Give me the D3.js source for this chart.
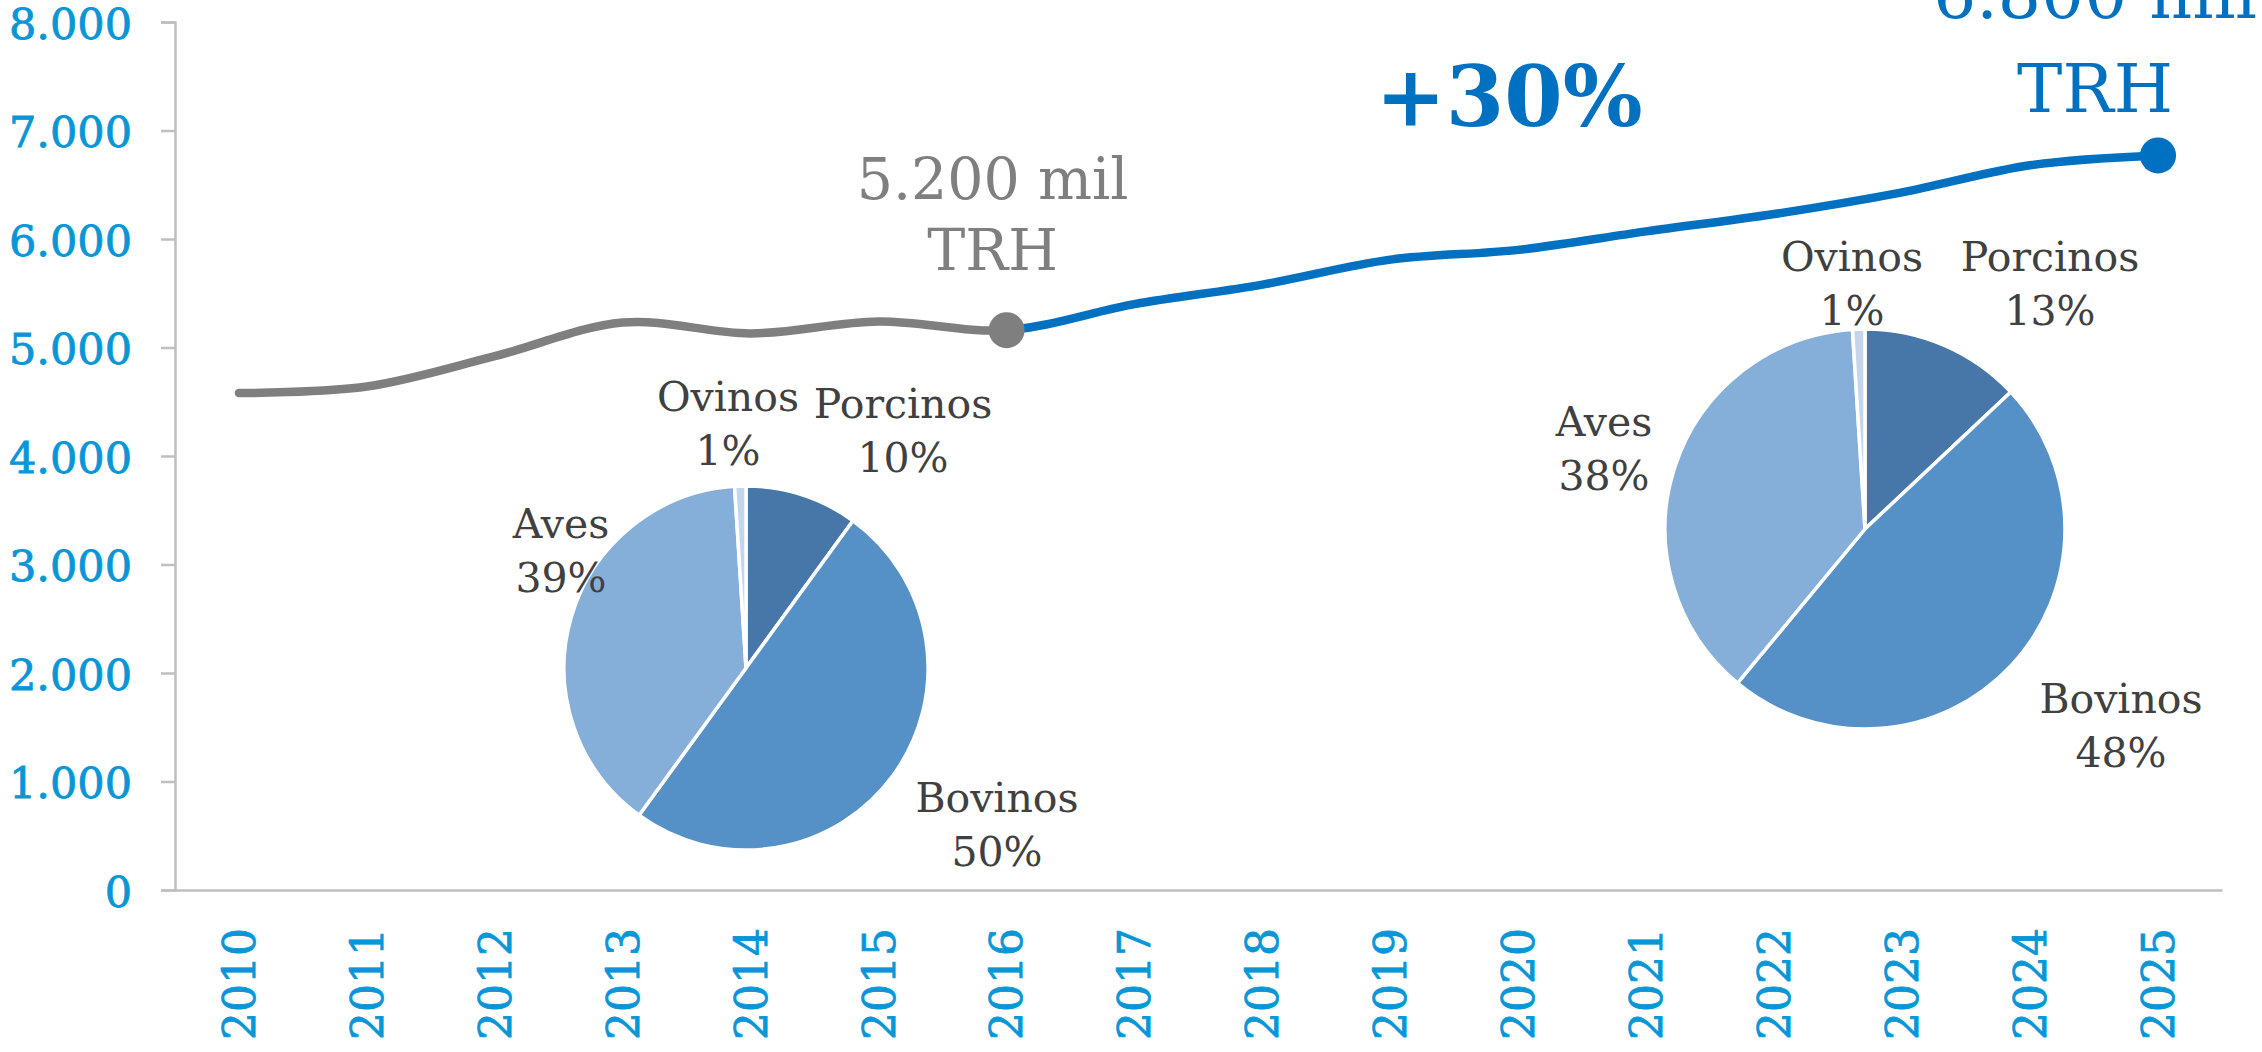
<!DOCTYPE html>
<html>
<head>
<meta charset="utf-8">
<script src="https://cdn.jsdelivr.net/npm/d3@7"></script>
<style>
  body { margin: 0; background: #fff; }
  svg { display: block; font-family: "DejaVu Serif", Georgia, serif; }
</style>
</head>
<body>
<svg id="chart" width="2262" height="1052"></svg>
<script>
// Data
const years = ["2010","2011","2012","2013","2014","2015","2016","2017","2018","2019","2020","2021","2022","2023","2024","2025"];
const production = [4580, 4640, 4920, 5230, 5130, 5240, 5160, 5400, 5580, 5810, 5900, 6070, 6230, 6430, 6680, 6770];
const yTicks = [0, 1000, 2000, 3000, 4000, 5000, 6000, 7000, 8000];
const splitYear = "2016";

const species = ["Porcinos", "Bovinos", "Aves", "Ovinos"];
const share2016 = [10, 50, 39, 1];
const share2025 = [13, 48, 38, 1];

// Layout
const W = 2262, H = 1052;
const margin = { top: 22, right: 40, bottom: 162, left: 175 };
const innerW = W - margin.left - margin.right;
const innerH = H - margin.top - margin.bottom;

const blue = "#0070c0", gray = "#7f7f7f", tickBlue = "#0896d7", axisGray = "#bfbfbf";
const pieColors = ["#4677a8", "#5590c6", "#85aed9", "#c5d6ec"];

const svg = d3.select("#chart");
const g = svg.append("g").attr("transform", `translate(${margin.left},${margin.top})`);

const x = d3.scaleBand().domain(years).range([0, innerW]);
const y = d3.scaleLinear().domain([0, 8000]).range([innerH, 0]);
const cx = (yr) => x(yr) + x.bandwidth() / 2;

const fmt = (v) => d3.format(",")(v).replace(/,/g, ".");

// y axis
const yAxis = g.append("g")
  .call(d3.axisLeft(y).tickValues(yTicks).tickSize(14).tickPadding(29).tickFormat(fmt));
yAxis.select(".domain").attr("stroke", axisGray).attr("stroke-width", 2.5);
yAxis.selectAll(".tick line").attr("stroke", axisGray).attr("stroke-width", 2.5);
yAxis.selectAll(".tick text")
  .attr("fill", tickBlue)
  .attr("stroke", tickBlue).attr("stroke-width", 0.8)
  .attr("font-size", 43)
  .attr("font-family", "DejaVu Serif")
  .attr("dy", "0.38em");

// x axis
const xAxis = g.append("g")
  .attr("transform", `translate(0,${innerH})`)
  .call(d3.axisBottom(x).tickSize(0).tickPadding(0));
xAxis.select(".domain").attr("stroke", axisGray).attr("stroke-width", 2.5);
xAxis.selectAll(".tick text")
  .attr("fill", tickBlue)
  .attr("stroke", tickBlue).attr("stroke-width", 0.8)
  .attr("font-size", 44)
  .attr("font-family", "DejaVu Serif")
  .attr("text-anchor", "end")
  .attr("transform", "translate(0,38) rotate(-90)")
  .attr("x", 0)
  .attr("y", 0)
  .attr("dy", "0.36em");

// line, one smooth path split into gray (past) and blue (projection)
const pts = years.map((yr, i) => [cx(yr), y(production[i])]);
const line = d3.line().curve(d3.curveCardinal.tension(0));
const splitX = cx(splitYear);

const defs = svg.append("defs");
defs.append("clipPath").attr("id", "clipPast")
  .append("rect").attr("x", -20).attr("y", -50).attr("width", splitX + 20).attr("height", innerH + 100);
defs.append("clipPath").attr("id", "clipFuture")
  .append("rect").attr("x", splitX).attr("y", -50).attr("width", innerW).attr("height", innerH + 100);

g.append("path").attr("d", line(pts)).attr("fill", "none")
  .attr("stroke", gray).attr("stroke-width", 8.5).attr("stroke-linecap", "round")
  .attr("clip-path", "url(#clipPast)");
g.append("path").attr("d", line(pts)).attr("fill", "none")
  .attr("stroke", blue).attr("stroke-width", 8.5).attr("clip-path", "url(#clipFuture)");

const iSplit = years.indexOf(splitYear);
const iLast = years.length - 1;
g.append("circle").attr("cx", pts[iSplit][0]).attr("cy", pts[iSplit][1]).attr("r", 18).attr("fill", gray);
g.append("circle").attr("cx", pts[iLast][0]).attr("cy", pts[iLast][1]).attr("r", 18).attr("fill", blue);

// annotations
function twoLines(xp, yp, lines, size, color, gap) {
  const t = g.append("text").attr("x", xp).attr("y", yp)
    .attr("text-anchor", "middle").attr("fill", color).attr("font-size", size);
  lines.forEach((s, i) => t.append("tspan").attr("x", xp).attr("dy", i ? gap : 0).text(s));
}
twoLines(cx(splitYear) - 14, 177, ["5.200 mil", "TRH"], 57, gray, 71);
twoLines(cx(years[iLast]) - 63, -4, ["6.800 mil", "TRH"], 68, blue, 94);

g.append("text").attr("x", 1509 - margin.left).attr("y", 126 - margin.top)
  .attr("text-anchor", "middle").attr("fill", blue)
  .attr("font-size", 84).attr("font-weight", "bold").text("+30%");

// pies
const pie = d3.pie().sort(null).value((d) => d);

function drawPie(values, center, r, labelPos) {
  const pg = svg.append("g").attr("transform", `translate(${center[0]},${center[1]})`);
  const arc = d3.arc().innerRadius(0).outerRadius(r);
  pg.selectAll("path").data(pie(values)).enter().append("path")
    .attr("d", arc)
    .attr("fill", (d, i) => pieColors[i])
    .attr("stroke", "#fff").attr("stroke-width", 3.5);
  species.forEach((name, i) => {
    const [lx, ly] = labelPos[i];
    const t = pg.append("text").attr("x", lx).attr("y", ly)
      .attr("text-anchor", "middle").attr("fill", "#404040").attr("font-size", 41);
    t.append("tspan").attr("x", lx).text(name);
    t.append("tspan").attr("x", lx).attr("dy", 54).text(values[i] + "%");
  });
}

drawPie(share2016, [746, 668], 182,
  [[157, -250], [251, 144], [-185, -130], [-18, -257]]);
drawPie(share2025, [1865, 529], 200,
  [[185, -258], [256, 184], [-261, -93], [-13, -258]]);
</script>
</body>
</html>
